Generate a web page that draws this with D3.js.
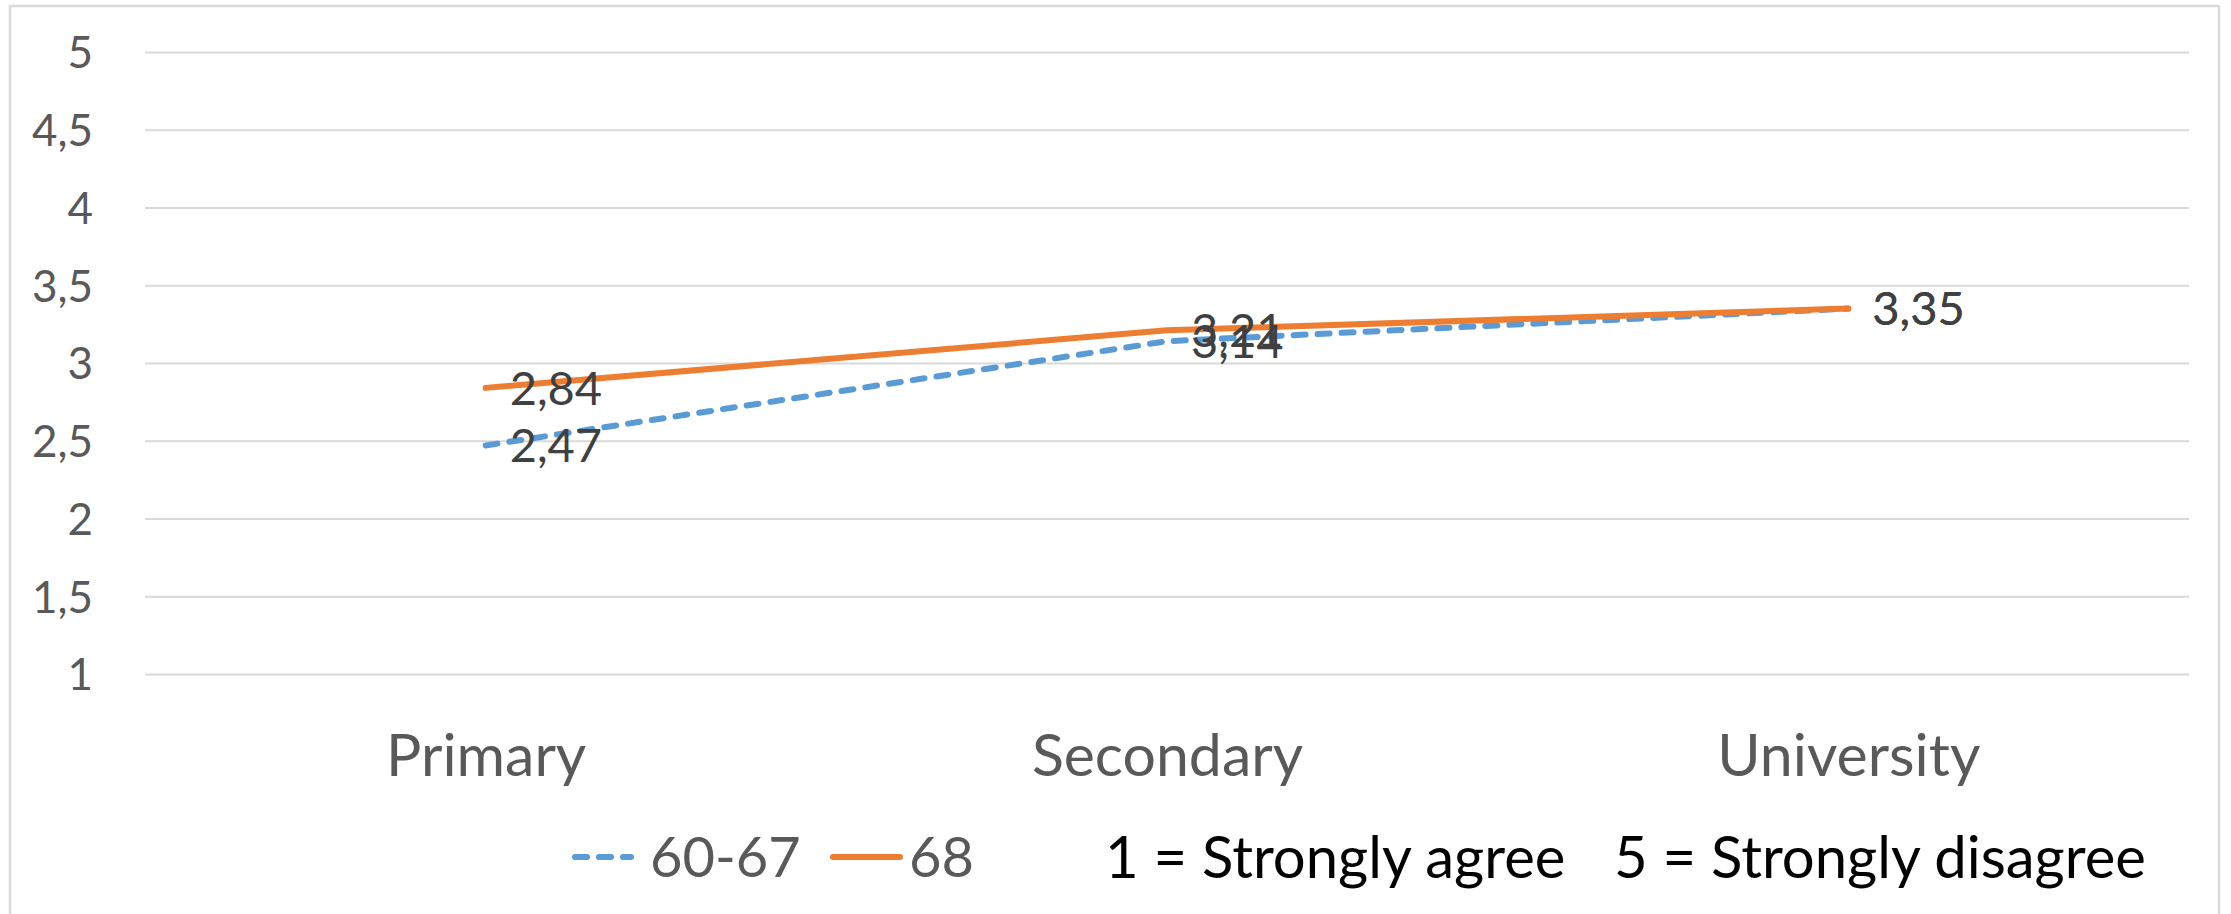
<!DOCTYPE html>
<html>
<head>
<meta charset="utf-8">
<script src="https://cdn.jsdelivr.net/npm/d3@7"></script>
<style>
  html, body { margin: 0; padding: 0; background: #ffffff; }
  svg { display: block; font-family: Lato, "Open Sans", "Liberation Sans", sans-serif; }
</style>
</head>
<body>
<svg id="chart" width="2231" height="914"></svg>
<script>
// Education level categories
const categories = ["Primary", "Secondary", "University"];

// Mean scores per age group
const seriesNames = ["60-67", "68"];
const values6067 = [2.47, 3.14, 3.35];
const values68 = [2.84, 3.21, 3.35];

// Y axis ticks and their labels (comma decimal)
const yTicks = [1, 1.5, 2, 2.5, 3, 3.5, 4, 4.5, 5];
const yTickLabels = ["1", "1,5", "2", "2,5", "3", "3,5", "4", "4,5", "5"];

// Scale note shown next to the legend
const noteTexts = ["1 = Strongly agree", "5 = Strongly disagree"];

const colors = { "60-67": "#5B9BD5", "68": "#ED7D31" };

const svg = d3.select("#chart");
const W = 2231, H = 914;
const plot = { left: 145, right: 2189, top: 52, bottom: 674 };

// Chart frame
svg.append("rect")
  .attr("x", 10).attr("y", 6)
  .attr("width", 2209).attr("height", H + 20)
  .attr("fill", "#ffffff")
  .attr("stroke", "#d9d9d9").attr("stroke-width", 2.5);

const y = d3.scaleLinear().domain([1, 5]).range([plot.bottom, plot.top]);
const x = d3.scalePoint().domain(categories).range([plot.left, plot.right]).padding(0.5);

// Horizontal gridlines with value labels
const yAxis = d3.axisLeft(y)
  .tickValues(yTicks)
  .tickSize(-(plot.right - plot.left))
  .tickPadding(52)
  .tickFormat((d, i) => yTickLabels[i]);

const gy = svg.append("g")
  .attr("transform", `translate(${plot.left},0)`)
  .call(yAxis);
gy.select(".domain").remove();
gy.selectAll(".tick line").attr("stroke", "#d9d9d9").attr("stroke-width", 2);
gy.selectAll(".tick text")
  .attr("fill", "#595959")
  .attr("font-size", 44)
  .attr("dy", "0.36em")
  .attr("font-family", "Lato, 'Open Sans', sans-serif");

// Category labels
const xAxis = d3.axisBottom(x).tickSize(0).tickPadding(0);
const gx = svg.append("g")
  .attr("transform", "translate(0,776)")
  .call(xAxis);
gx.select(".domain").remove();
gx.selectAll(".tick text")
  .attr("fill", "#595959")
  .attr("font-size", 59)
  .attr("y", 0)
  .attr("dy", 0)
  .attr("font-family", "Lato, 'Open Sans', sans-serif");

const series = [
  { name: "60-67", values: values6067, dash: "12 12" },
  { name: "68", values: values68, dash: null }
];

const line = d3.line()
  .x((d, i) => x(categories[i]))
  .y(d => y(d));

// Series lines
series.forEach(s => {
  svg.append("path")
    .datum(s.values)
    .attr("d", line)
    .attr("fill", "none")
    .attr("stroke", colors[s.name])
    .attr("stroke-width", 6)
    .attr("stroke-linecap", "round")
    .attr("stroke-linejoin", "round")
    .attr("stroke-dasharray", s.dash);
});

// Data labels to the right of each point
const fmt = v => v.toFixed(2).replace(".", ",");
series.forEach(s => {
  svg.append("g").selectAll("text")
    .data(s.values)
    .join("text")
    .attr("x", (d, i) => x(categories[i]) + 24)
    .attr("y", d => y(d))
    .attr("dy", "0.36em")
    .attr("fill", "#404040")
    .attr("font-size", 47)
    .text(d => fmt(d));
});

// Legend
const legendY = 857;
const legendItems = [
  { name: "60-67", x0: 575, x1: 631, tx: 650, dash: "12 12" },
  { name: "68", x0: 833, x1: 900, tx: 909, dash: null }
];
const lg = svg.append("g");
legendItems.forEach(it => {
  lg.append("line")
    .attr("x1", it.x0).attr("x2", it.x1)
    .attr("y1", legendY).attr("y2", legendY)
    .attr("stroke", colors[it.name])
    .attr("stroke-width", 6)
    .attr("stroke-linecap", "round")
    .attr("stroke-dasharray", it.dash);
  lg.append("text")
    .attr("x", it.tx).attr("y", legendY)
    .attr("dy", "0.36em")
    .attr("fill", "#595959")
    .attr("font-size", 56)
    .text(it.name);
});

// Scale note
const noteX = [1105, 1614];
noteTexts.forEach((t, i) => {
  svg.append("text")
    .attr("x", noteX[i]).attr("y", legendY)
    .attr("dy", "0.36em")
    .attr("fill", "#000000")
    .attr("font-size", 58)
    .text(t);
});
</script>
</body>
</html>
